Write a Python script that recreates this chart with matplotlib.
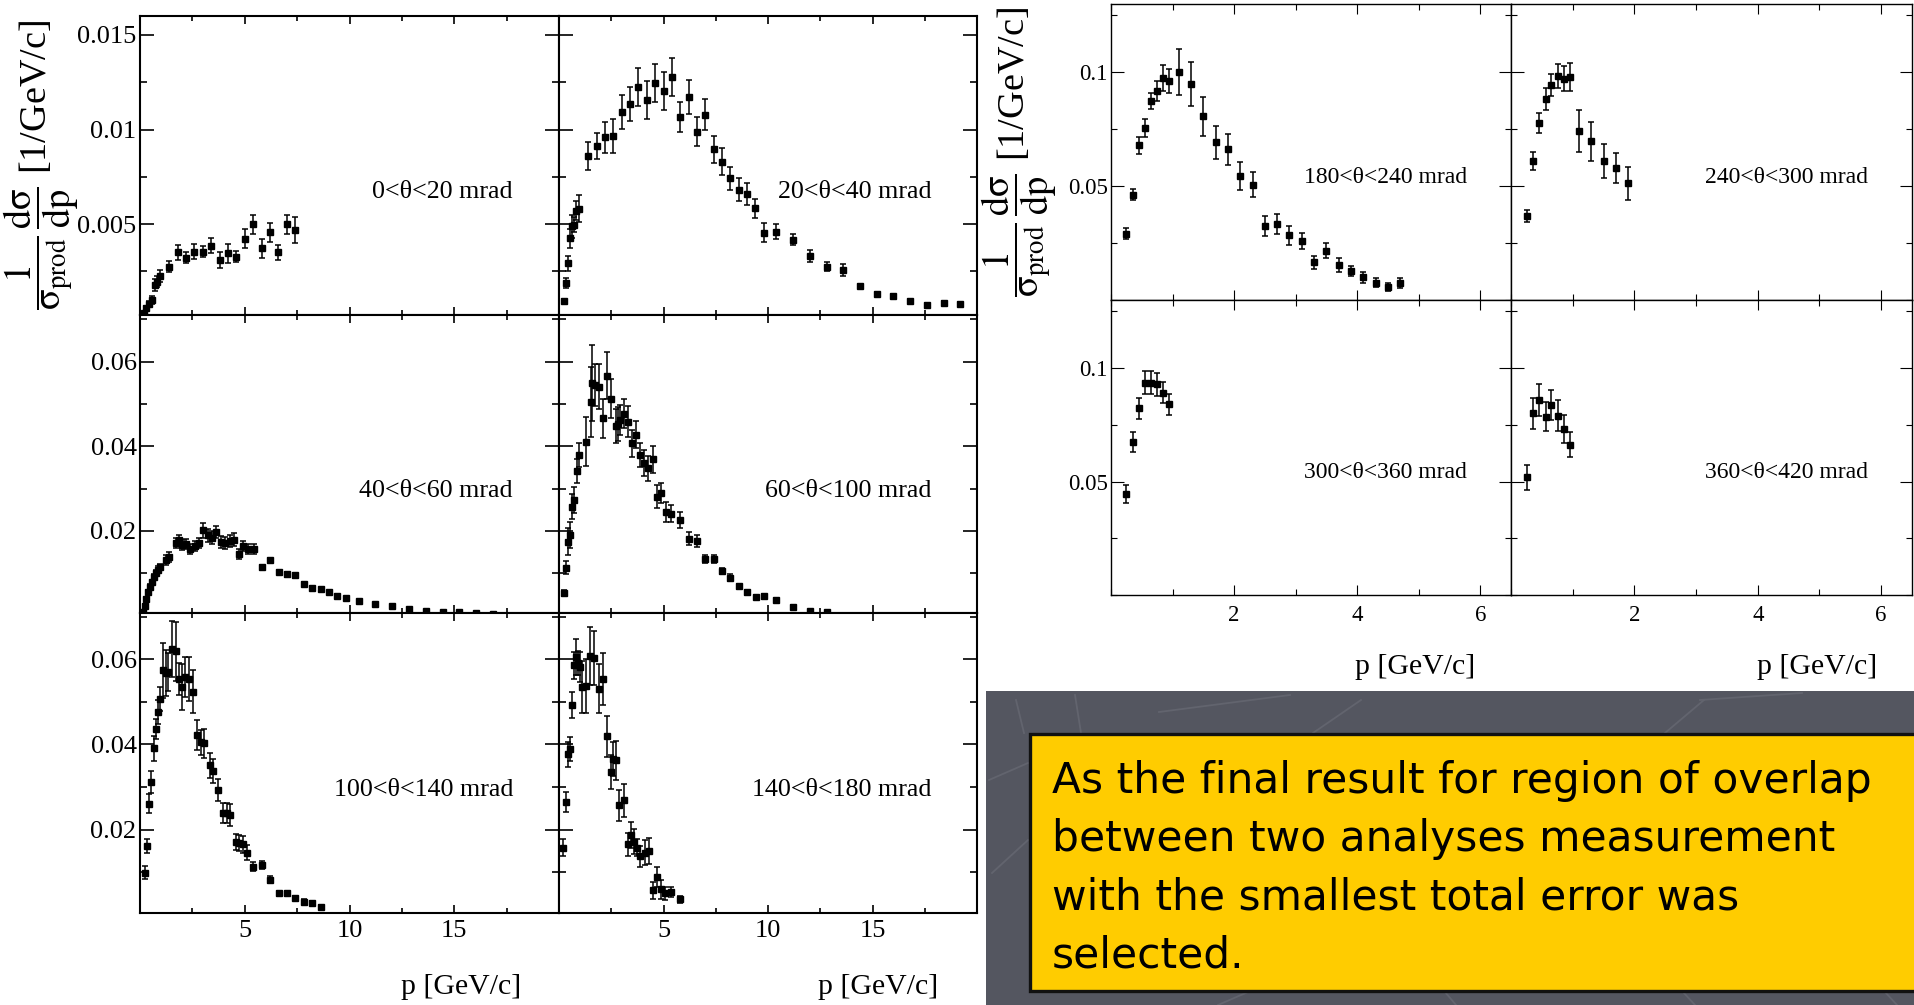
import matplotlib.pyplot as plt
from matplotlib.patches import Rectangle
from matplotlib.lines import Line2D
from matplotlib.ticker import MultipleLocator

plt.rcParams['font.family'] = ['Liberation Serif', 'DejaVu Serif']
plt.rcParams['mathtext.fontset'] = 'stix'

# ---- data: p [GeV/c], 1/sigma dsigma/dp, error ----
p1 = [0.17, 0.31, 0.44, 0.56, 0.7, 0.82, 0.94, 1.4, 1.8, 2.2, 2.6, 3.0, 3.4, 3.8, 4.2, 4.6, 5.0, 5.4, 5.8, 6.2, 6.6, 7.0, 7.4]
y1 = [0.00028, 0.00055, 0.00078, 0.00099, 0.00178, 0.00196, 0.00226, 0.00276, 0.00352, 0.00323, 0.00355, 0.00355,
      0.00387, 0.00311, 0.00346, 0.00329, 0.00422, 0.005, 0.00373, 0.00456, 0.00352, 0.005, 0.0047]
e1 = [0.0001, 0.0001, 0.00015, 0.0002, 0.0003, 0.0003, 0.0003, 0.0003, 0.0004, 0.0003, 0.0004, 0.0003,
      0.0004, 0.0004, 0.0005, 0.0003, 0.0005, 0.0005, 0.0005, 0.0005, 0.0004, 0.0005, 0.0007]

p2 = [0.24, 0.33, 0.44, 0.54, 0.63, 0.73, 0.83, 0.94, 1.4, 1.8, 2.2, 2.6, 3.0, 3.4, 3.8, 4.2, 4.6, 5.0, 5.4, 5.8,
      6.2, 6.6, 7.0, 7.4, 7.8, 8.2, 8.6, 9.0, 9.4, 9.8, 10.4, 11.2, 12.0, 12.8, 13.6, 14.4, 15.2, 16.0, 16.8, 17.6, 18.4, 19.2]
y2 = [0.00093, 0.00188, 0.00293, 0.00425, 0.00488, 0.00498, 0.0057, 0.00582, 0.0086, 0.00912, 0.00958, 0.00968,
      0.01095, 0.01133, 0.01223, 0.01158, 0.01246, 0.01205, 0.01279, 0.01067, 0.01174, 0.00989, 0.01079, 0.00895,
      0.0083, 0.00742, 0.00682, 0.0066, 0.00584, 0.00454, 0.00461, 0.00418, 0.00332, 0.00275, 0.00258, 0.00172,
      0.0013, 0.00123, 0.00096, 0.00072, 0.00084, 0.00077]
e2 = [0.0001, 0.00026, 0.0004, 0.0005, 0.0006, 0.0004, 0.0005, 0.0007, 0.00076, 0.0007, 0.0008, 0.0009, 0.0009,
      0.0009, 0.001, 0.001, 0.001, 0.001, 0.001, 0.0008, 0.0009, 0.00075, 0.0008, 0.0007, 0.0007, 0.0006, 0.0006,
      0.0006, 0.0005, 0.0005, 0.0004, 0.0003, 0.0003, 0.00025, 0.0003, 0.0001, 0.0001, 0.0001, 0.0001, 0.0001,
      0.0001, 0.0001]

p3 = [0.14, 0.22, 0.31, 0.39, 0.48, 0.56, 0.65, 0.75, 0.85, 0.95, 1.26, 1.39, 1.72, 1.84, 2.01, 2.21, 2.41, 2.62,
      2.82, 3.03, 3.23, 3.44, 3.64, 3.88, 4.08, 4.29, 4.49, 4.73, 4.93, 5.17, 5.43, 5.82, 6.22, 6.63, 7.02, 7.41,
      7.82, 8.23, 8.62, 9.03, 9.42, 9.83, 10.44, 11.22, 12.04, 12.84, 13.64, 14.44, 15.24, 16.04, 16.84]
y3 = [0.00075, 0.00234, 0.00392, 0.0055, 0.00685, 0.00788, 0.00907, 0.01002, 0.01081, 0.01145, 0.01303, 0.01382,
      0.01715, 0.01778, 0.01675, 0.01699, 0.0158, 0.01644, 0.01715, 0.02016, 0.01897, 0.01842, 0.01976, 0.01739,
      0.01715, 0.01762, 0.01794, 0.01461, 0.01636, 0.0158, 0.0158, 0.01145, 0.01303, 0.01026, 0.0097, 0.00946,
      0.00749, 0.00653, 0.00622, 0.0055, 0.00471, 0.00416, 0.00353, 0.00273, 0.00234, 0.00155, 0.00099, 0.00091,
      0.00075, 0.00051, 0.00036]
e3 = [0.0003, 0.0004, 0.0005, 0.0005, 0.0006, 0.0006, 0.0007, 0.0007, 0.0008, 0.0008, 0.0012, 0.0012, 0.0012,
      0.0012, 0.0012, 0.0012, 0.0012, 0.0012, 0.0012, 0.0018, 0.0015, 0.0015, 0.0015, 0.0015, 0.0015, 0.0015,
      0.0015, 0.0012, 0.0012, 0.0012, 0.0012, 0.0006, 0.0006, 0.0005, 0.0005, 0.0005, 0.0004, 0.0004, 0.0004,
      0.0003, 0.0003, 0.0003, 0.0002, 0.0002, 0.0002, 0.0001, 0.0001, 0.0001, 0.0001, 0.0001, 0.0001]

p4 = [0.24, 0.33, 0.43, 0.52, 0.62, 0.71, 0.84, 0.94, 1.3, 1.51, 1.6, 1.71, 1.9, 2.1, 2.3, 2.49, 2.71, 2.81, 2.9,
      3.1, 3.29, 3.51, 3.67, 3.89, 4.08, 4.27, 4.49, 4.71, 4.87, 5.1, 5.38, 5.79, 6.21, 6.6, 6.98, 7.4, 7.79, 8.19,
      8.6, 9.0, 9.41, 9.81, 10.4, 11.21, 12.02, 12.81]
y4 = [0.0053, 0.0113, 0.0174, 0.019, 0.0257, 0.0273, 0.0342, 0.0379, 0.0411, 0.0504, 0.0549, 0.0545, 0.0541,
      0.0466, 0.0567, 0.0512, 0.0448, 0.0453, 0.0462, 0.0477, 0.0458, 0.0407, 0.0427, 0.0379, 0.036, 0.0348,
      0.0369, 0.0281, 0.029, 0.0245, 0.0241, 0.0225, 0.0182, 0.0176, 0.0134, 0.0134, 0.0105, 0.0089, 0.0069,
      0.0055, 0.0043, 0.0045, 0.0037, 0.0021, 0.001, 0.0008]
e4 = [0.0008, 0.0015, 0.0032, 0.003, 0.003, 0.003, 0.0028, 0.0028, 0.0057, 0.0082, 0.009, 0.005, 0.0053, 0.0046,
      0.0055, 0.0046, 0.004, 0.004, 0.0036, 0.0034, 0.0036, 0.0032, 0.0032, 0.0028, 0.003, 0.003, 0.0032, 0.0028,
      0.0024, 0.0024, 0.002, 0.0019, 0.0015, 0.0014, 0.001, 0.001, 0.0008, 0.0008, 0.0006, 0.0006, 0.0005,
      0.0005, 0.0004, 0.0003, 0.0003, 0.0003]

p5 = [0.22, 0.34, 0.44, 0.54, 0.65, 0.75, 0.85, 0.95, 1.09, 1.22, 1.36, 1.53, 1.7, 1.87, 2.01, 2.14, 2.35, 2.52,
      2.72, 2.89, 3.06, 3.33, 3.5, 3.71, 3.96, 4.13, 4.3, 4.56, 4.73, 4.93, 5.1, 5.41, 5.82, 6.22, 6.63, 7.02,
      7.41, 7.82, 8.23, 8.62]
y5 = [0.0099, 0.0162, 0.0261, 0.0312, 0.0391, 0.0436, 0.0476, 0.0507, 0.0574, 0.0568, 0.057, 0.0625, 0.0619,
      0.0554, 0.0535, 0.0558, 0.0554, 0.0524, 0.0422, 0.0405, 0.0403, 0.0351, 0.0338, 0.0294, 0.0239, 0.0239,
      0.0235, 0.017, 0.0169, 0.0165, 0.0146, 0.0113, 0.0117, 0.0082, 0.005, 0.005, 0.0039, 0.0031, 0.0027, 0.0019]
e5 = [0.0015, 0.0017, 0.0022, 0.0026, 0.003, 0.0024, 0.0029, 0.0028, 0.0065, 0.0055, 0.0045, 0.0066, 0.0069,
      0.0037, 0.0055, 0.0047, 0.0051, 0.005, 0.0035, 0.003, 0.0034, 0.0029, 0.0029, 0.0026, 0.0024, 0.0024,
      0.0026, 0.0019, 0.0019, 0.002, 0.0018, 0.001, 0.001, 0.0008, 0.0006, 0.0006, 0.0005, 0.0005, 0.0005, 0.0004]

p6 = [0.21, 0.33, 0.43, 0.52, 0.62, 0.71, 0.81, 0.9, 1.0, 1.1, 1.29, 1.48, 1.67, 1.89, 2.11, 2.3, 2.49, 2.59,
      2.71, 2.87, 3.1, 3.29, 3.44, 3.57, 3.73, 3.89, 4.11, 4.3, 4.49, 4.68, 4.87, 5.06, 5.38, 5.79]
y6 = [0.0157, 0.0265, 0.0377, 0.0389, 0.0493, 0.0586, 0.0606, 0.0591, 0.0583, 0.0535, 0.0537, 0.0608, 0.0603,
      0.0531, 0.0554, 0.0419, 0.0335, 0.0367, 0.0363, 0.0257, 0.0269, 0.0165, 0.0188, 0.0172, 0.0157, 0.0137,
      0.0146, 0.015, 0.0058, 0.0088, 0.006, 0.005, 0.0054, 0.0036]
e6 = [0.002, 0.0024, 0.003, 0.0028, 0.0031, 0.0031, 0.0042, 0.0028, 0.0035, 0.0062, 0.0064, 0.0069, 0.0063,
      0.0058, 0.0061, 0.0049, 0.004, 0.004, 0.0046, 0.0037, 0.0039, 0.0028, 0.0031, 0.003, 0.002, 0.0024, 0.003,
      0.003, 0.002, 0.0024, 0.0022, 0.0015, 0.0012, 0.0008]

p7 = [0.25, 0.35, 0.45, 0.55, 0.65, 0.75, 0.85, 0.95, 1.1, 1.3, 1.5, 1.7, 1.9, 2.1, 2.3, 2.5, 2.7, 2.9, 3.1, 3.3,
      3.5, 3.7, 3.9, 4.1, 4.3, 4.5, 4.7]
y7 = [0.0292, 0.0463, 0.068, 0.0756, 0.0873, 0.0918, 0.0975, 0.0962, 0.1001, 0.095, 0.0807, 0.0692, 0.0661,
      0.0544, 0.0507, 0.0327, 0.0332, 0.0285, 0.0259, 0.0165, 0.0216, 0.0153, 0.0127, 0.0099, 0.0076, 0.0056, 0.0073]
e7 = [0.0026, 0.0023, 0.0038, 0.004, 0.0035, 0.0042, 0.0055, 0.0052, 0.0102, 0.0097, 0.0085, 0.0072, 0.0067,
      0.006, 0.0056, 0.0044, 0.0044, 0.0042, 0.0035, 0.003, 0.0033, 0.003, 0.0023, 0.0026, 0.002, 0.0018, 0.0022]

p8 = [0.26, 0.36, 0.46, 0.56, 0.65, 0.76, 0.86, 0.96, 1.1, 1.3, 1.5, 1.7, 1.9]
y8 = [0.037, 0.061, 0.0779, 0.0882, 0.0946, 0.0985, 0.0972, 0.098, 0.0743, 0.0697, 0.061, 0.058, 0.0512]
e8 = [0.0027, 0.0038, 0.0044, 0.0048, 0.0048, 0.0053, 0.0054, 0.0063, 0.0093, 0.0086, 0.0074, 0.0066, 0.0073]

p9 = [0.25, 0.35, 0.45, 0.55, 0.65, 0.75, 0.85, 0.95]
y9 = [0.0446, 0.0676, 0.0822, 0.0936, 0.0936, 0.0929, 0.0892, 0.084]
e9 = [0.004, 0.0044, 0.0047, 0.0052, 0.005, 0.005, 0.0047, 0.0047]

p10 = [0.26, 0.36, 0.45, 0.56, 0.65, 0.76, 0.86, 0.96]
y10 = [0.0519, 0.08, 0.0859, 0.0786, 0.0837, 0.079, 0.073, 0.0662]
e10 = [0.0055, 0.0069, 0.0069, 0.0064, 0.0067, 0.0068, 0.0062, 0.0056]

labels_left = ['0<θ<20 mrad', '20<θ<40 mrad', '40<θ<60 mrad', '60<θ<100 mrad', '100<θ<140 mrad', '140<θ<180 mrad']
labels_right = ['180<θ<240 mrad', '240<θ<300 mrad', '300<θ<360 mrad', '360<θ<420 mrad']

yticks_top = [0.005, 0.01, 0.015]
yticklabels_top = ['0.005', '0.01', '0.015']
yticks_mid = [0.02, 0.04, 0.06]
yticklabels_mid = ['0.02', '0.04', '0.06']
xticks_left = [5, 10, 15, 20]
xticklabels_left = ['5', '10', '15', '']
yticks_right = [0.05, 0.1]
yticklabels_right = ['0.05', '0.1']
xticks_right = [2, 4, 6]
xticklabels_right = ['2', '4', '6']

ylabel = r'$\dfrac{1}{\mathrm{σ}_{\mathrm{prod}}}\,\dfrac{\mathrm{dσ}}{\mathrm{dp}}$ [1/GeV/c]'
note_lines = ['As the final result for region of overlap',
              'between two analyses measurement',
              'with the smallest total error was',
              'selected.']

# ---- layout (pixels of the 1914 x 1005 picture) ----
W, H = 1914, 1005
fig = plt.figure(figsize=(W / 100, H / 100), dpi=100)


def box(x0, y0, x1, y1):
    return [x0 / W, 1 - y1 / H, (x1 - x0) / W, (y1 - y0) / H]


def style(ax, lw, ylen, xlen, size, xpad):
    for s in ax.spines.values():
        s.set_linewidth(lw)
    ax.tick_params(which='both', direction='in', top=True, right=True, width=lw * 0.8,
                   labelsize=size, colors='black')
    ax.tick_params(axis='y', which='major', length=ylen, pad=2.5)
    ax.tick_params(axis='y', which='minor', length=ylen * 0.5)
    ax.tick_params(axis='x', which='major', length=xlen, pad=xpad)
    ax.tick_params(axis='x', which='minor', length=xlen * 0.65)


def points(ax, p, y, e, ms):
    ax.errorbar(p, y, yerr=e, fmt='s', color='black', ms=ms, elinewidth=1.1,
                capsize=2.2, capthick=1.1)


left_cols = [(140, 559), (559, 977)]
left_rows = [(16, 315), (315, 613), (613, 913)]
left_ylim = [(0.0002, 0.016), (0.0006, 0.071), (0.0004, 0.0709)]
left_data = [(p1, y1, e1), (p2, y2, e2), (p3, y3, e3), (p4, y4, e4), (p5, y5, e5), (p6, y6, e6)]

for i, (p, y, e) in enumerate(left_data):
    r, c = divmod(i, 2)
    ax = fig.add_axes(box(left_cols[c][0], left_rows[r][0], left_cols[c][1], left_rows[r][1]))
    points(ax, p, y, e, 4.8)
    ax.set_xlim(0, 19.9)
    ax.set_ylim(*left_ylim[r])
    style(ax, 1.5, 10, 6, 19, 5)
    if r == 0:
        ax.set_yticks(yticks_top, yticklabels_top if c == 0 else [])
        ax.yaxis.set_minor_locator(MultipleLocator(0.0025))
    else:
        ax.set_yticks(yticks_mid, yticklabels_mid if c == 0 else [])
        ax.yaxis.set_minor_locator(MultipleLocator(0.01))
    ax.set_xticks(xticks_left, xticklabels_left if r == 2 else [])
    ax.xaxis.set_minor_locator(MultipleLocator(2.5))
    ax.text(0.89, 0.41, labels_left[i], transform=ax.transAxes,
            ha='right', va='center', fontsize=18.7)

right_cols = [(1111, 1511), (1511, 1912)]
right_rows = [(4, 300), (300, 595)]
right_data = [(p7, y7, e7), (p8, y8, e8), (p9, y9, e9), (p10, y10, e10)]

for i, (p, y, e) in enumerate(right_data):
    r, c = divmod(i, 2)
    ax = fig.add_axes(box(right_cols[c][0], right_rows[r][0], right_cols[c][1], right_rows[r][1]))
    points(ax, p, y, e, 4.3)
    ax.set_xlim(0, 6.5)
    ax.set_ylim(0, 0.13)
    style(ax, 1.0, 9, 7, 16.5, 7)
    ax.set_yticks(yticks_right, yticklabels_right if c == 0 else [])
    ax.yaxis.set_minor_locator(MultipleLocator(0.025))
    ax.set_xticks(xticks_right, xticklabels_right if r == 1 else [])
    ax.xaxis.set_minor_locator(MultipleLocator(1))
    ax.text(0.89, 0.415, labels_right[i], transform=ax.transAxes,
            ha='right', va='center', fontsize=17)

# axis titles
fig.text(41 / W, 1 - 165 / H, ylabel, rotation=90, ha='center', va='center', fontsize=27.5)
fig.text(1019 / W, 1 - 152 / H, ylabel, rotation=90, ha='center', va='center', fontsize=27.5)
for xr, yc in [(521, 987), (938, 987), (1475, 667), (1877, 667)]:
    fig.text(xr / W, 1 - yc / H, 'p [GeV/c]', ha='right', va='center', fontsize=21.5)

# dark slide panel with the yellow note
fig.add_artist(Rectangle((986 / W, 0), 1 - 986 / W, 1 - 691 / H, transform=fig.transFigure,
                         facecolor='#545660', edgecolor='none', zorder=0))
deco = [((1159, 712), (1290, 695)), ((1313, 733), (1361, 700)), ((1700, 700), (1802, 693)),
        ((1665, 733), (1704, 700)), ((989, 780), (1028, 763)), ((992, 873), (1028, 840)),
        ((1218, 1005), (1248, 992)), ((1445, 992), (1456, 1005)), ((1683, 992), (1695, 1005)),
        ((1885, 992), (1897, 1005)), ((1016, 700), (1024, 733)), ((1075, 695), (1081, 733))]
for (xa, ya), (xb, yb) in deco:
    fig.add_artist(Line2D([xa / W, xb / W], [1 - ya / H, 1 - yb / H], transform=fig.transFigure,
                          color='#62646e', lw=1.3, zorder=0.5))
fig.add_artist(Rectangle((1030 / W, 1 - 991 / H), (1940 - 1030) / W, (991 - 734) / H,
                         transform=fig.transFigure, facecolor='#ffcc00', edgecolor='#111111',
                         lw=2.4, zorder=1, clip_on=False))
for k, line in enumerate(note_lines):
    fig.text(1052 / W, 1 - (793 + 58 * k) / H, line, ha='left', va='baseline', fontsize=30.5,
             family='DejaVu Sans', zorder=2)

fig.savefig('out.png', dpi=100)
